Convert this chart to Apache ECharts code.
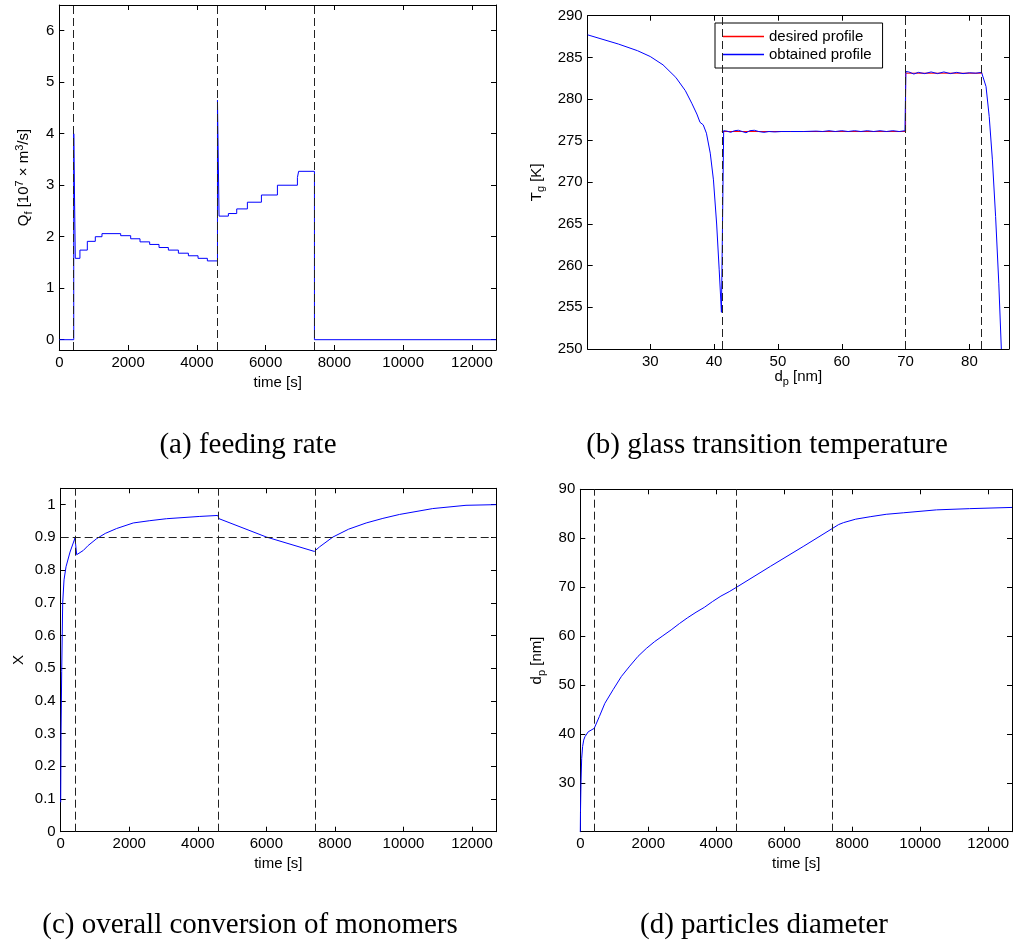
<!DOCTYPE html>
<html><head><meta charset="utf-8">
<script src="https://cdn.jsdelivr.net/npm/echarts@6/dist/echarts.min.js"></script>
<style>html,body{margin:0;padding:0;background:#fff}#c{width:1013px;height:944px}</style>
</head><body><div id="c"></div><script>
// ---------- data ----------
// (a) feeding rate (step values, each holds until next time)
const qfTime  = [0, 420, 465, 600, 815, 1047, 1241, 1785, 2076, 2347, 2628, 2900, 3172, 3463, 3754, 4035, 4306, 4600, 4646, 4917, 5160, 5470, 5878, 6343, 6925, 6960, 7420, 12700];
const qfValue = [0, 4.0, 1.58, 1.74, 1.91, 2.0, 2.06, 2.02, 1.96, 1.90, 1.85, 1.79, 1.74, 1.68, 1.63, 1.58, 1.53, 4.65, 2.40, 2.45, 2.54, 2.67, 2.81, 3.0, 3.15, 3.27, 0, 0];
// (b) glass transition temperature vs particle diameter
const tgDp = [20.2, 25, 28, 30, 32, 34, 35.5, 36.5, 37.3, 37.8, 38.3, 38.8, 39.4, 39.9, 40.4, 40.8, 41.15,
  41.5, 42.0, 42.6, 43.2, 43.8, 44.4, 45.0, 45.6, 46.3, 47.0, 47.8, 48.6, 49.5, 50.5, 52, 54, 56, 57, 58, 59, 60, 61, 62, 63, 64, 65, 66, 67, 68, 69, 69.9,
  70.05, 70.5, 71.3, 72, 73, 74, 75, 76, 77, 78, 79, 80, 81, 81.9,
  82.6, 83.1, 83.6, 84.1, 84.6, 85.0];
const tgObtained = [287.7, 286.6, 285.8, 285.1, 284.1, 282.6, 281.0, 279.5, 278.2, 277.2, 276.9, 275.9, 273.5, 270.3, 265.0, 259.5, 254.4,
  276.2, 276.15, 276.0, 276.2, 276.25, 276.1, 275.95, 276.2, 276.25, 276.1, 276.0, 276.1, 276.05, 276.1, 276.1, 276.1, 276.15, 276.1, 276.2, 276.1, 276.2, 276.1, 276.2, 276.1, 276.2, 276.1, 276.2, 276.1, 276.2, 276.1, 276.2,
  283.3, 283.25, 283.0, 283.2, 283.05, 283.25, 283.05, 283.25, 283.05, 283.2, 283.05, 283.15, 283.1, 283.2,
  281.5, 277.9, 272.7, 265.9, 257.9, 250.0];
const tgDesiredDp = [41.2, 70, 70, 82];
const tgDesired   = [276.1, 276.1, 283.1, 283.1];
// (c) overall conversion of monomers
const convTime = [0, 10, 29, 58, 97, 155, 272, 417, 466, 660, 800, 1049, 1300, 1631, 2117, 2600, 3087, 4058, 4583, 4621, 6000, 7400, 7553, 7942, 8400, 8913, 9400, 9883, 10854, 11825, 12700];
const convX    = [0.09, 0.30, 0.49, 0.70, 0.77, 0.81, 0.855, 0.898, 0.847, 0.86, 0.875, 0.896, 0.912, 0.927, 0.944, 0.951, 0.957, 0.964, 0.967, 0.957, 0.901, 0.857, 0.871, 0.901, 0.925, 0.944, 0.958, 0.970, 0.988, 0.998, 1.0];
const convTarget = 0.9;
// (d) particles diameter
const dpTime  = [0, 5, 20, 40, 68, 100, 137, 234, 410, 560, 722, 966, 1210, 1454, 1698, 1941, 2185, 2429, 2673, 2917, 3161, 3405, 3649, 3893, 4137, 4380, 4595, 5600, 6576, 7415, 7600, 7746, 8100, 8527, 9000, 9502, 10478, 11454, 12700];
const dpValue = [20.1, 24, 30, 35, 37.5, 38.8, 39.5, 40.5, 41.2, 43.6, 46.3, 49.1, 51.8, 53.9, 55.9, 57.5, 58.9, 60.1, 61.3, 62.6, 63.8, 64.9, 65.9, 67.1, 68.2, 69.1, 70, 74.3, 78.4, 82.0, 82.8, 83.2, 83.9, 84.4, 84.9, 85.2, 85.8, 86.05, 86.3];
// switching instants
const switchTimes = [420, 4600, 7420];
const switchDp = [41.2, 70, 81.9];
// tick labels
const timeTicks = [0, 2000, 4000, 6000, 8000, 10000, 12000];
const qfTicks = [0, 1, 2, 3, 4, 5, 6];
const tgTicks = [250, 255, 260, 265, 270, 275, 280, 285, 290];
const dpTicks = [30, 40, 50, 60, 70, 80];
const convTicks = [0, 0.1, 0.2, 0.3, 0.4, 0.5, 0.6, 0.7, 0.8, 0.9, 1];
const dpYTicks = [30, 40, 50, 60, 70, 80, 90];
const captions = ['(a) feeding rate', '(b) glass transition temperature', '(c) overall conversion of monomers', '(d) particles diameter'];

// ---------- chart ----------
const FONT = 'Liberation Sans';
const zip = (a, b) => a.map((v, i) => [v, b[i]]);
const rich = {
  sub: {fontSize: 11, lineHeight: 11, verticalAlign: 'bottom', fontFamily: FONT, color: '#000'},
  sup: {fontSize: 11, lineHeight: 11, verticalAlign: 'top', fontFamily: FONT, color: '#000'}
};
const nameStyle = {fontSize: 15, lineHeight: 20, fontFamily: FONT, color: '#000', rich: rich};
const lineCol = '#000';
const plain = v => String(v);

const grids = [
  {left: 59.3, top: 5, width: 436.7, height: 345},
  {left: 587.7, top: 15.7, width: 421.3, height: 333.3},
  {left: 60.7, top: 488.3, width: 435.3, height: 343.4},
  {left: 580.3, top: 489.3, width: 431.7, height: 342.4}
].map(g => Object.assign(g, {outerBoundsMode: 'none', containLabel: false}));

const panels = [
  {x: [0, 12700, timeTicks], y: [-0.2, 6.5, qfTicks], xName: 'time [s]', yName: 'Q{sub|f} [10{sup|7} × m{sup|3}/s]', xGap: 23, yGap: 25},
  {x: [20.2, 86.2, dpTicks], y: [250, 290, tgTicks], xName: 'd{sub|p} [nm]', yName: 'T{sub|g} [K]', xGap: 18, yGap: 41},
  {x: [0, 12700, timeTicks], y: [0, 1.05, convTicks], xName: 'time [s]', yName: 'X', xGap: 22, yGap: 31.5, yFmt: v => (v === 0 || v === 1) ? String(v) : v.toFixed(1)},
  {x: [0, 12700, timeTicks], y: [20.1, 90, dpYTicks], xName: 'time [s]', yName: 'd{sub|p} [nm]', xGap: 22, yGap: 33}
];

const xAxes = [], yAxes = [];
panels.forEach((p, i) => {
  const common = {type: 'value', gridIndex: i, splitLine: {show: false},
    axisLine: {show: true, onZero: false, lineStyle: {color: lineCol, width: 1}}};
  xAxes.push(Object.assign({}, common, {
    position: 'bottom', min: p.x[0], max: p.x[1],
    axisTick: {show: true, inside: true, length: 5, customValues: p.x[2], lineStyle: {color: lineCol}},
    axisLabel: {show: true, margin: 5, customValues: p.x[2], fontSize: 15, fontFamily: FONT, color: '#000', formatter: plain},
    name: p.xName, nameLocation: 'middle', nameGap: p.xGap, nameTextStyle: nameStyle, nameMoveOverlap: false
  }));
  xAxes.push(Object.assign({}, common, {
    position: 'top', min: p.x[0], max: p.x[1],
    axisTick: {show: true, inside: true, length: 5, customValues: p.x[2], lineStyle: {color: lineCol}},
    axisLabel: {show: false}
  }));
  yAxes.push(Object.assign({}, common, {
    position: 'left', min: p.y[0], max: p.y[1],
    axisTick: {show: true, inside: true, length: 5, customValues: p.y[2], lineStyle: {color: lineCol}},
    axisLabel: {show: true, margin: 5, customValues: p.y[2], fontSize: 15, fontFamily: FONT, color: '#000',
      formatter: p.yFmt || plain},
    name: p.yName, nameLocation: 'middle', nameRotate: 90, nameGap: p.yGap, nameTextStyle: nameStyle, nameMoveOverlap: false
  }));
  yAxes.push(Object.assign({}, common, {
    position: 'right', min: p.y[0], max: p.y[1],
    axisTick: {show: true, inside: true, length: 5, customValues: p.y[2], lineStyle: {color: lineCol}},
    axisLabel: {show: false}
  }));
});

const dash = {color: '#222', type: [8, 4], width: 1};
const vLines = vals => ({silent: true, symbol: ['none', 'none'], label: {show: false}, animation: false,
  lineStyle: dash, emphasis: {disabled: true}, data: vals.map(v => ({xAxis: v}))});
const blue = {color: '#0000ff', width: 1};
const base = {type: 'line', showSymbol: false, symbol: 'none', animation: false, silent: true, clip: true};

const series = [
  Object.assign({}, base, {name: 'Qf', xAxisIndex: 0, yAxisIndex: 0, step: 'end', data: zip(qfTime, qfValue),
    lineStyle: blue, itemStyle: {color: '#0000ff'}, markLine: vLines(switchTimes)}),
  Object.assign({}, base, {name: 'desired profile', xAxisIndex: 2, yAxisIndex: 2, data: zip(tgDesiredDp, tgDesired),
    lineStyle: {color: '#ff0000', width: 1}, itemStyle: {color: '#ff0000'}, markLine: vLines(switchDp)}),
  Object.assign({}, base, {name: 'obtained profile', xAxisIndex: 2, yAxisIndex: 2, data: zip(tgDp, tgObtained),
    lineStyle: blue, itemStyle: {color: '#0000ff'}}),
  Object.assign({}, base, {name: 'X', xAxisIndex: 4, yAxisIndex: 4, data: zip(convTime, convX),
    lineStyle: blue, itemStyle: {color: '#0000ff'},
    markLine: {silent: true, symbol: ['none', 'none'], label: {show: false}, animation: false, lineStyle: dash,
      data: switchTimes.map(v => ({xAxis: v})).concat([{yAxis: convTarget}])}}),
  Object.assign({}, base, {name: 'dp', xAxisIndex: 6, yAxisIndex: 6, data: zip(dpTime, dpValue),
    lineStyle: blue, itemStyle: {color: '#0000ff'}, markLine: vLines(switchTimes)})
];

const capPos = [[248, 445], [767, 445], [250, 925], [764, 925]];
const graphic = captions.map((t, i) => ({
  type: 'text', x: capPos[i][0], y: capPos[i][1], silent: true,
  style: {text: t, fill: '#000', font: '29px "Liberation Serif"', textAlign: 'center', textVerticalAlign: 'middle', align: 'center', verticalAlign: 'middle'}
}));

const chart = echarts.init(document.getElementById('c'), null, {renderer: 'canvas'});
chart.setOption({
  animation: false,
  backgroundColor: '#fff',
  grid: grids,
  xAxis: xAxes,
  yAxis: yAxes,
  legend: {
    left: 715, top: 23, orient: 'vertical',
    data: [{name: 'desired profile', icon: 'rect', itemStyle: {color: '#ff0000'}},
           {name: 'obtained profile', icon: 'rect', itemStyle: {color: '#0000ff'}}],
    itemWidth: 41, itemHeight: 1.5, itemGap: 3, padding: [6, 11, 6, 8],
    borderColor: '#000', borderWidth: 1, backgroundColor: '#fff',
    textStyle: {fontSize: 15, lineHeight: 15, fontFamily: FONT, color: '#000'}, selectedMode: false
  },
  series: series,
  graphic: graphic
});
</script></body></html>
